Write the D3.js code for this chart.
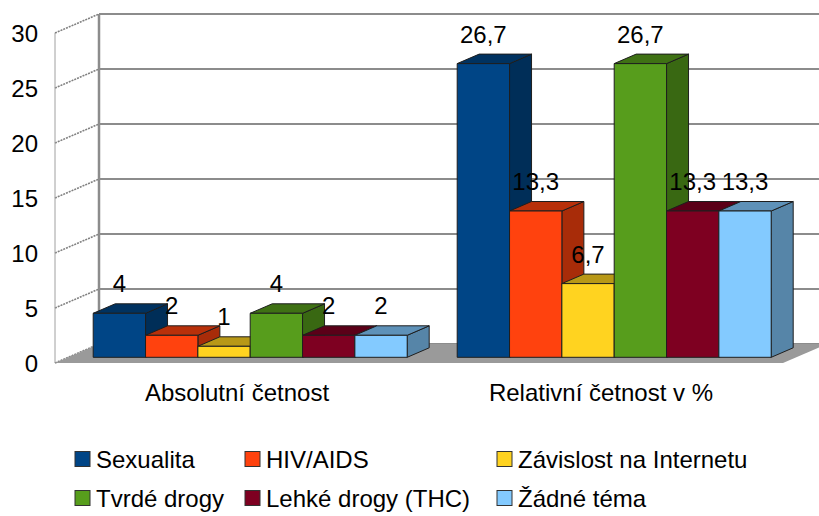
<!DOCTYPE html>
<html>
<head>
<meta charset="utf-8">
<script src="https://cdn.jsdelivr.net/npm/d3@7"></script>
<style>
  body { margin: 0; background: #fff; }
  text { font-family: "Liberation Sans", Arial, sans-serif; fill: #000; }
</style>
</head>
<body>
<div id="chart"></div>
<script>
// data
const categories = ["Absolutní četnost", "Relativní četnost v %"];
const series = ["Sexualita", "HIV/AIDS", "Závislost na Internetu",
  "Tvrdé drogy", "Lehké drogy (THC)", "Žádné téma"];
const absolutni = [4, 2, 1, 4, 2, 2];
const relativni = [26.7, 13.3, 6.7, 26.7, 13.3, 13.3];
const colors = ["#004586", "#ff420e", "#ffd320", "#579d1c", "#7e0021", "#83caff"];
const yTicks = [0, 5, 10, 15, 20, 25, 30];

const rows = categories.map((c, i) => ({
  category: c,
  values: series.map((s, j) => ({ series: s, value: [absolutni, relativni][i][j] }))
}));

const width = 819, height = 516;
// depth of the whole box and of the bars (projected offsets)
const depth = { dx: 44, dy: -19 };
const barFront = 0.3, barDepth = 0.5;
const fmt = (v) => String(v).replace(".", ",");

const svg = d3.select("#chart").append("svg")
  .attr("width", width)
  .attr("height", height)
  .style("display", "block");

const y = d3.scaleLinear().domain([0, 30]).range([363, 33]);
const x0 = d3.scaleBand().domain(categories).range([55, 783]);
const x1 = d3.scaleBand().domain(series).range([0, 314]);
const color = d3.scaleOrdinal().domain(series).range(colors);
const groupPad = (x0.bandwidth() - x1.range()[1]) / 2;

const left = x0.range()[0], right = x0.range()[1];

// left side wall: slanted grid lines
const walls = svg.append("g");
walls.selectAll("line.side")
  .data(yTicks)
  .join("line")
  .attr("x1", left).attr("y1", (d) => y(d))
  .attr("x2", left + depth.dx).attr("y2", (d) => y(d) + depth.dy)
  .attr("stroke", "#808080")
  .attr("stroke-width", 1.6)
  .attr("stroke-dasharray", "2,1");

walls.append("line")
  .attr("x1", left).attr("y1", y(30))
  .attr("x2", left).attr("y2", y(0))
  .attr("stroke", "#a0a0a0");

// back wall grid lines
walls.selectAll("line.back")
  .data(yTicks)
  .join("line")
  .attr("x1", left + depth.dx).attr("y1", (d) => y(d) + depth.dy)
  .attr("x2", width).attr("y2", (d) => y(d) + depth.dy)
  .attr("stroke", "#8c8c8c")
  .attr("stroke-width", 2);

walls.append("line")
  .attr("x1", left + depth.dx).attr("y1", y(30) + depth.dy)
  .attr("x2", left + depth.dx).attr("y2", y(0) + depth.dy)
  .attr("stroke", "#8c8c8c")
  .attr("stroke-width", 2.5);

// floor
walls.append("polygon")
  .attr("points", [
    [left, y(0)], [left + depth.dx, y(0) + depth.dy],
    [right + depth.dx, y(0) + depth.dy], [right, y(0)]
  ].join(" "))
  .attr("fill", "#9a9a9a");

// y tick labels
svg.append("g").selectAll("text")
  .data(yTicks)
  .join("text")
  .attr("x", 38)
  .attr("y", (d) => y(d))
  .attr("dy", "0.36em")
  .attr("text-anchor", "end")
  .attr("font-size", 24)
  .text((d) => d);

// bars
const fdx = depth.dx * barFront, fdy = depth.dy * barFront;
const bdx = depth.dx * barDepth, bdy = depth.dy * barDepth;
const shade = (c, k) => {
  const r = d3.rgb(c);
  return d3.rgb(r.r * k, r.g * k, r.b * k).formatHex();
};

const bars = [];
rows.forEach((row) => {
  row.values.forEach((d) => {
    const xs = x0(row.category) + groupPad + x1(d.series) + fdx;
    bars.push({
      series: d.series,
      value: d.value,
      x: xs,
      w: x1.bandwidth(),
      yt: y(d.value) + fdy,
      yb: y(0) + fdy
    });
  });
});

const barG = svg.append("g")
  .attr("stroke", "#1e1e1e")
  .attr("stroke-width", 1)
  .attr("stroke-linejoin", "round");

bars.forEach((b) => {
  const g = barG.append("g");
  const c = color(b.series);
  g.append("polygon")
    .attr("points", [
      [b.x + b.w, b.yt], [b.x + b.w + bdx, b.yt + bdy],
      [b.x + b.w + bdx, b.yb + bdy], [b.x + b.w, b.yb]
    ].join(" "))
    .attr("fill", shade(c, 0.66));
  g.append("polygon")
    .attr("points", [
      [b.x, b.yt], [b.x + b.w, b.yt],
      [b.x + b.w + bdx, b.yt + bdy], [b.x + bdx, b.yt + bdy]
    ].join(" "))
    .attr("fill", shade(c, 0.72));
  g.append("rect")
    .attr("x", b.x).attr("y", b.yt)
    .attr("width", b.w).attr("height", b.yb - b.yt)
    .attr("fill", c);
});

// value labels
svg.append("g").selectAll("text")
  .data(bars)
  .join("text")
  .attr("x", (d) => d.x + d.w / 2)
  .attr("y", (d) => d.yt - 21)
  .attr("text-anchor", "middle")
  .attr("font-size", 24)
  .text((d) => fmt(d.value));

// category labels
svg.append("g").selectAll("text")
  .data(categories)
  .join("text")
  .attr("x", (d) => x0(d) + x0.bandwidth() / 2)
  .attr("y", 401)
  .attr("text-anchor", "middle")
  .attr("font-size", 24)
  .text((d) => d);

// legend
const legendCols = [75, 245, 497];
const legendRows = [459, 498];
const legend = svg.append("g").selectAll("g")
  .data(series)
  .join("g")
  .attr("transform", (d, i) =>
    `translate(${legendCols[i % 3]},${legendRows[Math.floor(i / 3)]})`);

legend.append("rect")
  .attr("x", 0).attr("y", -7.5)
  .attr("width", 15).attr("height", 15)
  .attr("fill", (d) => color(d))
  .attr("stroke", "#333")
  .attr("stroke-width", 1);

legend.append("text")
  .attr("x", 21)
  .attr("y", 0)
  .attr("dy", "0.36em")
  .attr("font-size", 24)
  .text((d) => d);
</script>
</body>
</html>
